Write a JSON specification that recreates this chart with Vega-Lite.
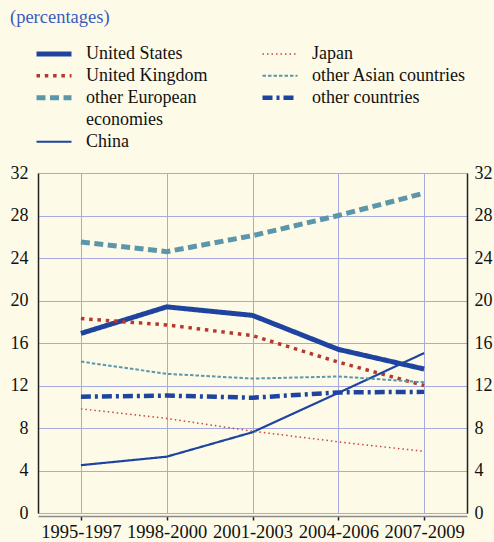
{
  "$schema": "https://vega.github.io/schema/vega-lite/v6.json",
  "width": 429,
  "height": 340,
  "autosize": {"type": "none"},
  "padding": {"left": 38, "top": 173, "right": 27, "bottom": 29},
  "background": "#fdfbe8",
  "title": {
    "text": "(percentages)",
    "anchor": "start",
    "frame": "group",
    "orient": "top",
    "font": "Liberation Serif",
    "fontSize": 18.5,
    "fontWeight": "normal",
    "color": "#3a5cbf",
    "offset": 0,
    "dx": -28,
    "dy": -17
  },
  "data": {
    "values": [
      {"period": "1995-1997", "series": "United States", "value": 16.9},
      {"period": "1998-2000", "series": "United States", "value": 19.4},
      {"period": "2001-2003", "series": "United States", "value": 18.6},
      {"period": "2004-2006", "series": "United States", "value": 15.4},
      {"period": "2007-2009", "series": "United States", "value": 13.55},
      {"period": "1995-1997", "series": "United Kingdom", "value": 18.3},
      {"period": "1998-2000", "series": "United Kingdom", "value": 17.7},
      {"period": "2001-2003", "series": "United Kingdom", "value": 16.7},
      {"period": "2004-2006", "series": "United Kingdom", "value": 14.2},
      {"period": "2007-2009", "series": "United Kingdom", "value": 12.0},
      {"period": "1995-1997", "series": "other European economies", "value": 25.5},
      {"period": "1998-2000", "series": "other European economies", "value": 24.6},
      {"period": "2001-2003", "series": "other European economies", "value": 26.1},
      {"period": "2004-2006", "series": "other European economies", "value": 28.0},
      {"period": "2007-2009", "series": "other European economies", "value": 30.1},
      {"period": "1995-1997", "series": "China", "value": 4.5},
      {"period": "1998-2000", "series": "China", "value": 5.3},
      {"period": "2001-2003", "series": "China", "value": 7.6},
      {"period": "2004-2006", "series": "China", "value": 11.3},
      {"period": "2007-2009", "series": "China", "value": 15.05},
      {"period": "1995-1997", "series": "Japan", "value": 9.8},
      {"period": "1998-2000", "series": "Japan", "value": 8.9},
      {"period": "2001-2003", "series": "Japan", "value": 7.7},
      {"period": "2004-2006", "series": "Japan", "value": 6.7},
      {"period": "2007-2009", "series": "Japan", "value": 5.8},
      {"period": "1995-1997", "series": "other Asian countries", "value": 14.25},
      {"period": "1998-2000", "series": "other Asian countries", "value": 13.1},
      {"period": "2001-2003", "series": "other Asian countries", "value": 12.65},
      {"period": "2004-2006", "series": "other Asian countries", "value": 12.85},
      {"period": "2007-2009", "series": "other Asian countries", "value": 12.3},
      {"period": "1995-1997", "series": "other countries", "value": 10.95},
      {"period": "1998-2000", "series": "other countries", "value": 11.05},
      {"period": "2001-2003", "series": "other countries", "value": 10.85},
      {"period": "2004-2006", "series": "other countries", "value": 11.35},
      {"period": "2007-2009", "series": "other countries", "value": 11.4}
    ]
  },
  "encoding": {
    "x": {
      "field": "period",
      "type": "nominal",
      "sort": null,
      "scale": {"paddingInner": 0, "paddingOuter": 0},
      "axis": {
        "title": null,
        "labelAngle": 0,
        "bandPosition": 0,
        "grid": true,
        "gridColor": "#a5abdf",
        "gridWidth": 1,
        "domainColor": "#8a8a8a",
        "domainWidth": 1.5,
        "tickColor": "#222",
        "tickSize": 4,
        "tickWidth": 1.5,
        "offset": 3,
        "labelPadding": 2,
        "labelFont": "Liberation Serif",
        "labelFontSize": 18.5,
        "labelColor": "#111"
      }
    }
  },
  "layer": [
    {
      "mark": {"type": "line"},
      "encoding": {
        "y": {
          "field": "value",
          "type": "quantitative",
          "scale": {"domain": [0, 32], "nice": false, "zero": true},
          "axis": {
            "title": null,
            "orient": "left",
            "values": [0, 4, 8, 12, 16, 20, 24, 28, 32],
            "grid": true,
            "gridColor": "#a5abdf",
            "gridWidth": 1,
            "domainColor": "#222",
            "domainWidth": 1.5,
            "ticks": false,
            "labelPadding": 10,
            "labelFont": "Liberation Serif",
            "labelFontSize": 18,
            "labelColor": "#111"
          }
        },
        "color": {
          "field": "series",
          "type": "nominal",
          "scale": {
            "domain": ["United States", "United Kingdom", "other European economies", "economies_", "China", "Japan", "other Asian countries", "other countries", "blank1", "blank2"],
            "range": ["#1e44a0", "#b5382c", "#5c96aa", "transparent", "#1e44a0", "#c8463a", "#5c96aa", "#1e44a0", "transparent", "transparent"]
          },
          "legend": {
            "title": null,
            "orient": "none",
            "direction": "vertical",
            "legendX": -4,
            "legendY": -130,
            "columns": 2,
            "columnPadding": 52,
            "rowPadding": 0,
            "clipHeight": 21.5,
            "symbolType": "stroke",
            "symbolSize": 1225,
            "labelOffset": 12,
            "labelFont": "Liberation Serif",
            "labelFontSize": 18,
            "labelColor": "#111",
            "labelLimit": 400,
            "labelExpr": "datum.label == 'other European economies' ? 'other European' : datum.label == 'economies_' ? 'economies' : indexof(datum.label, 'blank') == 0 ? '' : datum.label"
          }
        },
        "strokeDash": {
          "field": "series",
          "type": "nominal",
          "scale": {
            "domain": ["United States", "United Kingdom", "other European economies", "economies_", "China", "Japan", "other Asian countries", "other countries", "blank1", "blank2"],
            "range": [[1, 0], [3.5, 4.8], [9, 4.5], [1, 0], [1, 0], [1.5, 3], [3.5, 2], [10, 4, 3, 4], [1, 0], [1, 0]]
          },
          "legend": null
        },
        "strokeWidth": {
          "field": "series",
          "type": "nominal",
          "scale": {
            "type": "ordinal",
            "domain": ["United States", "United Kingdom", "other European economies", "economies_", "China", "Japan", "other Asian countries", "other countries", "blank1", "blank2"],
            "range": [5, 3.5, 5, 0, 2.2, 1.5, 2, 4.5, 0, 0]
          },
          "legend": null
        }
      }
    },
    {
      "mark": {"type": "line", "opacity": 0},
      "encoding": {
        "detail": {"field": "series", "type": "nominal"},
        "y": {
          "field": "value",
          "type": "quantitative",
          "scale": {"domain": [0, 32], "nice": false, "zero": true},
          "axis": {
            "title": null,
            "orient": "right",
            "values": [0, 4, 8, 12, 16, 20, 24, 28, 32],
            "grid": false,
            "domainColor": "#222",
            "domainWidth": 1.5,
            "ticks": false,
            "labelPadding": 7,
            "labelFont": "Liberation Serif",
            "labelFontSize": 18,
            "labelColor": "#111"
          }
        }
      }
    }
  ],
  "resolve": {"scale": {"y": "independent"}},
  "config": {
    "view": {"stroke": null}
  }
}
